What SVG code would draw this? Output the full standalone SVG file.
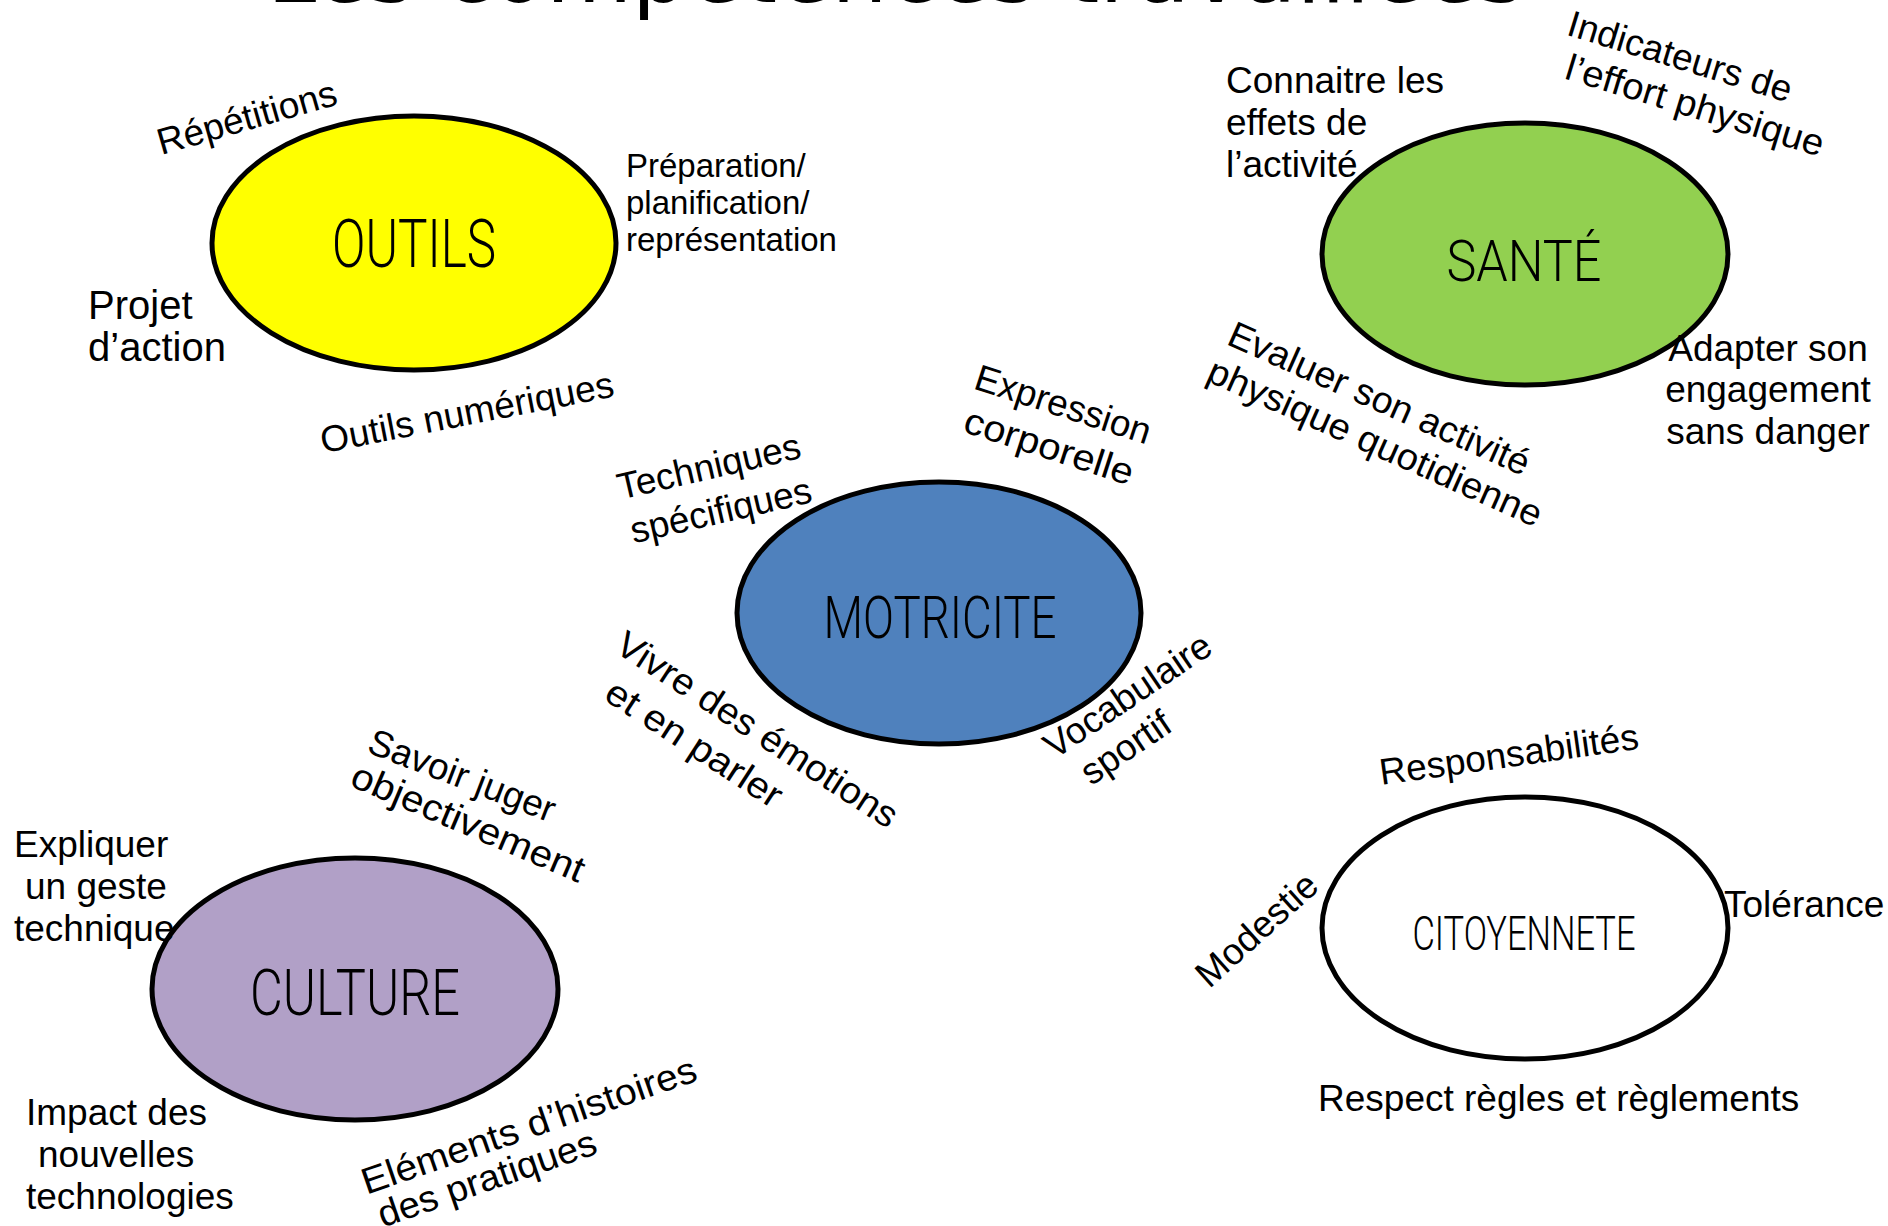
<svg xmlns="http://www.w3.org/2000/svg" width="1888" height="1226" viewBox="0 0 1888 1226">
<style>
.bg{fill:#ffffff}
.node{stroke:#000000;stroke-width:5}
.title{font-family:"DejaVu Sans","Liberation Sans",sans-serif;font-size:88px;fill:#000}
.core{font-family:"Roboto","Liberation Sans",sans-serif;font-weight:300;fill:#000;text-anchor:middle}
.lbl{font-family:"Liberation Sans",Arial,sans-serif;font-size:37px;fill:#000}
.sm{font-size:33px}
.lg{font-size:40px}
.c{text-anchor:middle}
</style>
<rect class="bg" x="0" y="0" width="1888" height="1226"/>
<text class="title" x="267" y="1.5" textLength="1258" lengthAdjust="spacingAndGlyphs">Les compétences travaillées</text>
<g id="connectors"></g>

<g id="node-outils">
<ellipse class="node" cx="414" cy="243" rx="202" ry="127" fill="#FFFF00"/>
<text class="core" x="414" y="267" font-size="66" textLength="164" lengthAdjust="spacingAndGlyphs">OUTILS</text>
<text class="lbl c" x="247" y="130" transform="rotate(-16 247 118)">Répétitions</text>
<text class="lbl sm" x="626" y="177">Préparation/</text>
<text class="lbl sm" x="626" y="214">planification/</text>
<text class="lbl sm" x="626" y="251">représentation</text>
<text class="lbl lg" x="88" y="319">Projet</text>
<text class="lbl lg" x="88" y="361">d’action</text>
<text class="lbl c" x="467" y="425" transform="rotate(-11 467 413)">Outils numériques</text>
</g>

<g id="node-sante">
<ellipse class="node" cx="1525" cy="254" rx="203" ry="131" fill="#92D050"/>
<text class="core" x="1524" y="281" font-size="57" textLength="155" lengthAdjust="spacingAndGlyphs">SANTÉ</text>
<text class="lbl" x="1226" y="93">Connaitre les</text>
<text class="lbl" x="1226" y="135">effets de</text>
<text class="lbl" x="1226" y="177">l’activité</text>
<text class="lbl c" x="1680" y="69" transform="rotate(17 1680 57)">Indicateurs de</text>
<text class="lbl c" x="1695" y="118" transform="rotate(17 1695 106)" textLength="268" lengthAdjust="spacingAndGlyphs">l’effort physique</text>
<text class="lbl c" x="1768" y="361">Adapter son</text>
<text class="lbl c" x="1768" y="402">engagement</text>
<text class="lbl c" x="1768" y="444">sans danger</text>
<text class="lbl c" x="1379" y="411" transform="rotate(24 1379 399)" textLength="326" lengthAdjust="spacingAndGlyphs">Evaluer son activité</text>
<text class="lbl c" x="1375" y="455" transform="rotate(24 1375 443)" textLength="362" lengthAdjust="spacingAndGlyphs">physique quotidienne</text>
</g>

<g id="node-motricite">
<ellipse class="node" cx="939" cy="613" rx="202" ry="131" fill="#4F81BD"/>
<text class="core" x="940" y="638" font-size="60" textLength="233" lengthAdjust="spacingAndGlyphs">MOTRICITE</text>
<text class="lbl c" x="1063" y="417" transform="rotate(18 1063 405)">Expression</text>
<text class="lbl c" x="1049" y="459" transform="rotate(18 1049 447)" textLength="176" lengthAdjust="spacingAndGlyphs">corporelle</text>
<text class="lbl c" x="709" y="479" transform="rotate(-13 709 467)">Techniques</text>
<text class="lbl c" x="721" y="523" transform="rotate(-13 721 511)">spécifiques</text>
<text class="lbl c" x="757" y="742" transform="rotate(33 757 730)" textLength="328" lengthAdjust="spacingAndGlyphs">Vivre des émotions</text>
<text class="lbl c" x="694" y="756" transform="rotate(33 694 744)" textLength="203" lengthAdjust="spacingAndGlyphs">et en parler</text>
<text class="lbl c" x="1128" y="708" transform="rotate(-34 1128 696)">Vocabulaire</text>
<text class="lbl c" x="1126" y="760" transform="rotate(-34 1126 748)">sportif</text>
</g>

<g id="node-culture">
<ellipse class="node" cx="355" cy="989" rx="203" ry="131" fill="#B1A0C7"/>
<text class="core" x="355" y="1015" font-size="64" textLength="210" lengthAdjust="spacingAndGlyphs">CULTURE</text>
<text class="lbl c" x="462" y="788" transform="rotate(21 462 776)">Savoir juger</text>
<text class="lbl c" x="468" y="835" transform="rotate(23 468 823)" textLength="250" lengthAdjust="spacingAndGlyphs">objectivement</text>
<text class="lbl" x="14" y="857">Expliquer</text>
<text class="lbl" x="25" y="899">un geste</text>
<text class="lbl" x="14" y="941">technique</text>
<text class="lbl" x="26" y="1125">Impact des</text>
<text class="lbl" x="38" y="1167">nouvelles</text>
<text class="lbl" x="26" y="1209">technologies</text>
<text class="lbl c" x="529" y="1138" transform="rotate(-19 529 1126)" textLength="352" lengthAdjust="spacingAndGlyphs">Eléments d’histoires</text>
<text class="lbl c" x="487" y="1191" transform="rotate(-19 487 1179)" textLength="229" lengthAdjust="spacingAndGlyphs">des pratiques</text>
</g>

<g id="node-citoyennete">
<ellipse class="node" cx="1525" cy="928" rx="203" ry="131" fill="#FFFFFF"/>
<text class="core" x="1524" y="950" font-size="49" textLength="223" lengthAdjust="spacingAndGlyphs">CITOYENNETE</text>
<text class="lbl c" x="1509" y="767" transform="rotate(-8 1509 755)">Responsabilités</text>
<text class="lbl c" x="1257" y="942" transform="rotate(-42 1257 930)">Modestie</text>
<text class="lbl" x="1724" y="917">Tolérance</text>
<text class="lbl" x="1318" y="1111">Respect règles et règlements</text>
</g>
</svg>
